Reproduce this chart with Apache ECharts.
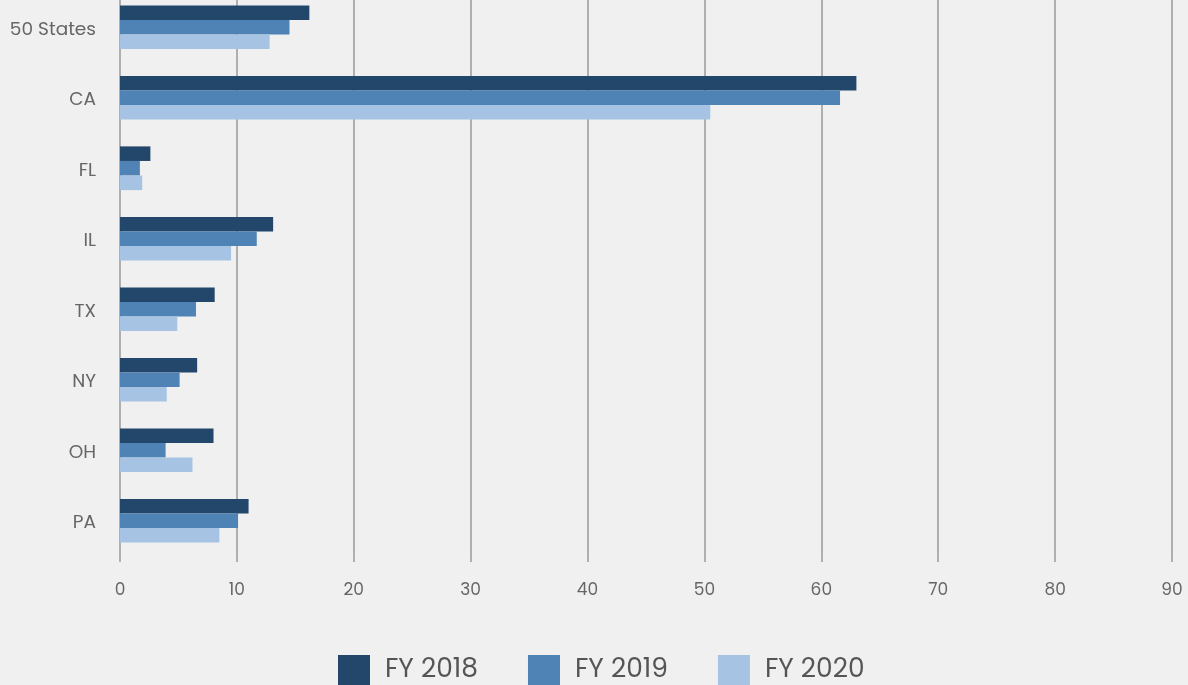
<!DOCTYPE html>
<html>
<head>
<meta charset="utf-8">
<script src="https://cdn.jsdelivr.net/npm/echarts@6/dist/echarts.min.js"></script>
<style>
html,body{margin:0;padding:0;background:#eff0ef;overflow:hidden;}
#chart{width:1188px;height:693px;margin-top:-8px;}
</style>
</head>
<body>
<div id="chart"></div>
<script>
const categories = ['50 States', 'CA', 'FL', 'IL', 'TX', 'NY', 'OH', 'PA'];
const fy2018 = [16.2, 63.0, 2.6, 13.1, 8.1, 6.6, 8.0, 11.0];
const fy2019 = [14.5, 61.6, 1.7, 11.7, 6.5, 5.1, 3.9, 10.1];
const fy2020 = [12.8, 50.5, 1.9, 9.5, 4.9, 4.0, 6.2, 8.5];
const xTicks = [0, 10, 20, 30, 40, 50, 60, 70, 80, 90];

const chart = echarts.init(document.getElementById('chart'));
const font = 'Poppins, "Noto Sans", sans-serif';
chart.setOption({
  backgroundColor: '#eff0ef',
  animation: false,
  textStyle: { fontFamily: font },
  grid: { left: 120, right: 16, top: 0, bottom: 129, containLabel: false },
  legend: {
    bottom: 0,
    left: 338,
    padding: 0,
    itemWidth: 32,
    itemHeight: 30,
    itemGap: 50,
    icon: 'rect',
    textStyle: { fontSize: 26.5, color: '#555', fontFamily: font, padding: [0, 0, 0, 10] },
    data: ['FY 2018', 'FY 2019', 'FY 2020']
  },
  xAxis: {
    type: 'value',
    min: xTicks[0],
    max: xTicks[xTicks.length - 1],
    interval: 10,
    axisLine: { show: false },
    axisTick: { show: true, length: 6, lineStyle: { color: '#9a9a9a', width: 1.5 } },
    splitLine: { show: true, lineStyle: { color: '#9a9a9a', width: 1.5 } },
    axisLabel: { color: '#666', fontSize: 17, margin: 26, fontFamily: font }
  },
  yAxis: {
    type: 'category',
    data: categories,
    inverse: true,
    axisLine: { show: false },
    axisTick: { show: false },
    axisLabel: { color: '#666', fontSize: 18.5, margin: 24, fontFamily: font, verticalAlign: 'top', lineHeight: 18, padding: [-6, 0, 0, 0] }
  },
  series: [
    { name: 'FY 2018', type: 'bar', data: fy2018, itemStyle: { color: '#23466b' }, barGap: '0%', barCategoryGap: '38%' },
    { name: 'FY 2019', type: 'bar', data: fy2019, itemStyle: { color: '#4f83b5' }, barGap: '0%', barCategoryGap: '38%' },
    { name: 'FY 2020', type: 'bar', data: fy2020, itemStyle: { color: '#a6c3e3' }, barGap: '0%', barCategoryGap: '38%' }
  ]
});
</script>
</body>
</html>
